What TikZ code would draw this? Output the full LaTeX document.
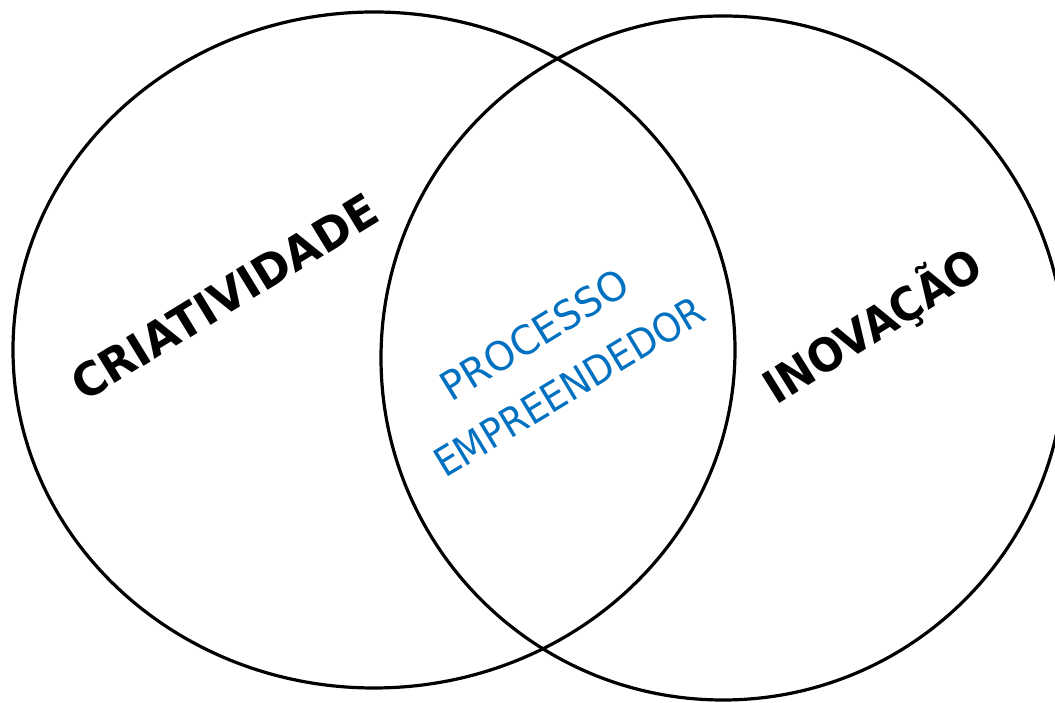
\documentclass[tikz,border=0pt]{standalone}
\usepackage{fontspec}
\setmainfont{DejaVu Sans}
\usepackage{graphicx}
\definecolor{procblue}{HTML}{0070C0}
\tikzset{
  ring/.style={draw=black, line width=3.2pt},
  lbl/.style={anchor=base west, inner sep=0pt, outer sep=0pt},
  biglbl/.style={lbl, text=black, font=\fontsize{46}{50}\selectfont\bfseries},
  bluelbl/.style={lbl, text=procblue, font=\fontsize{40}{44}\selectfont}
}
\begin{document}
\begin{tikzpicture}[x=1pt,y=1pt]
\useasboundingbox (0,0) rectangle (1055,703);
\fill[white] (0,0) rectangle (1055,703);
\begin{scope}
\clip (0,0) rectangle (1055,703);
\draw[ring] (374,353) ellipse [x radius=361, y radius=338];
\draw[ring] (723,345) circle [radius=342];
\end{scope}
\node[biglbl, rotate=31.5] (cria) at (84,300) {\resizebox{350pt}{\height}{CRIATIVIDADE}};
\node[biglbl, rotate=32] (inov) at (776,297) {\resizebox{248pt}{\height}{INOVAÇÃO}};
\node[bluelbl, rotate=31.5] (proc) at (451,300) {\resizebox{213pt}{\height}{PROCESSO}};
\node[bluelbl, rotate=31.2] (empr) at (445,224) {\resizebox{308pt}{\height}{EMPREENDEDOR}};
\end{tikzpicture}
\end{document}
